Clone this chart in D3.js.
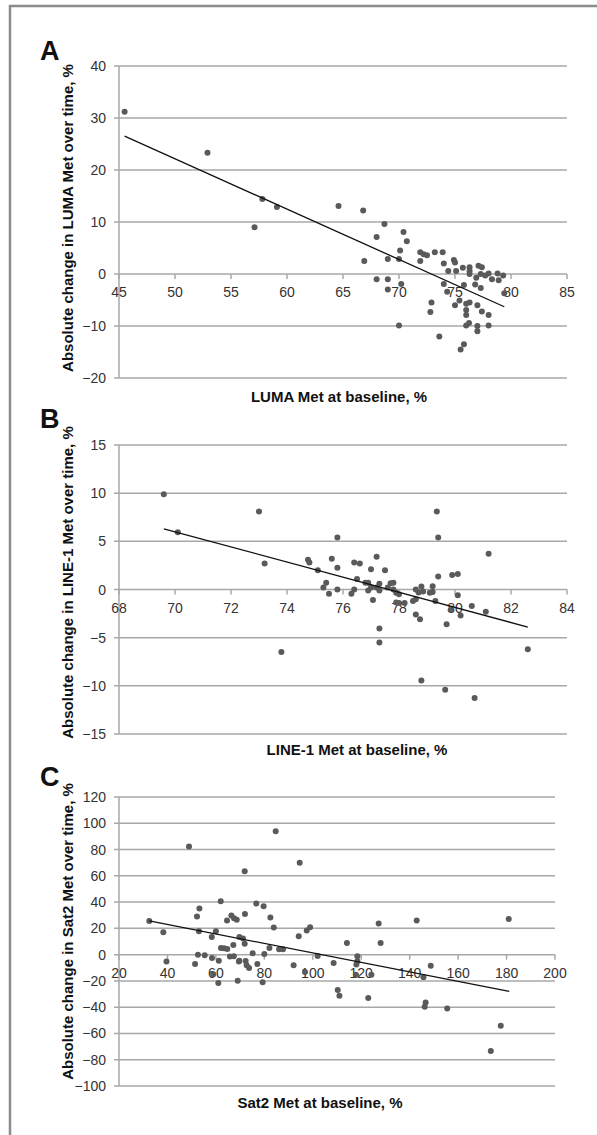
<!DOCTYPE html>
<html>
<head>
<meta charset="utf-8">
<script src="https://cdn.jsdelivr.net/npm/d3@7"></script>
<style>
    body { margin: 0; background: #fff; }
    svg text { font-family: "Liberation Sans", Arial, sans-serif; }
</style>
</head>
<body>
<svg id="figure" width="597" height="1135"></svg>
<script>
// panel A - LUMA
const lumaPoints = [
    [45.5, 31.2], [52.9, 23.3], [57.8, 14.4], [59.1, 12.9], [57.1, 9.0], [64.6, 13.1], [66.8, 12.2],
    [68.0, 7.1], [68.7, 9.6], [70.4, 8.1], [70.7, 6.3], [66.9, 2.5], [69.0, 2.9], [70.1, 4.5],
    [70.0, 2.9], [71.9, 4.2], [72.2, 3.8], [72.5, 3.6], [71.9, 2.5], [73.2, 4.2], [73.9, 4.2],
    [74.0, 2.0], [74.9, 2.7], [75.0, 2.2], [74.4, 0.6], [75.1, 0.6], [75.7, 1.2], [76.3, 1.3],
    [76.3, 0.6], [76.3, 0.0], [77.1, 1.6], [77.4, 1.3], [76.9, -0.7], [77.3, 0.0], [78.0, 0.1],
    [77.7, -0.3], [78.3, -1.0], [78.8, 0.1], [78.9, -1.2], [79.3, -0.3], [79.4, -3.7], [68.0, -1.0],
    [69.0, -1.0], [69.0, -3.0], [70.2, -1.9], [70.0, -9.9], [74.0, -1.9], [74.3, -3.4], [75.8, -2.1],
    [76.8, -2.0], [77.3, -2.7], [72.9, -5.5], [72.8, -7.3], [75.0, -6.0], [75.4, -5.1], [76.0, -5.7],
    [76.3, -5.5], [76.0, -6.9], [76.0, -7.9], [77.0, -6.0], [77.4, -7.2], [78.0, -7.9], [76.25, -9.4],
    [76.0, -9.9], [77.0, -10.0], [77.0, -11.0], [78.0, -9.9], [73.6, -12.0], [75.8, -13.5], [75.5, -14.5]
];
const lumaTrend = [[45.5, 26.5], [79.4, -6.3]];
const lumaXTicks = [45, 50, 55, 60, 65, 70, 75, 80, 85];
const lumaYTicks = [-20, -10, 0, 10, 20, 30, 40];

// panel B - LINE-1
const line1Points = [
    [69.6, 9.9], [70.1, 5.95], [73.0, 8.1], [73.2, 2.7], [73.8, -6.5], [78.8, -9.45], [79.65, -10.4],
    [80.7, -11.25], [79.35, 8.1], [79.4, 5.4], [75.8, 5.4], [81.2, 3.7], [74.75, 3.1], [74.8, 2.8],
    [75.6, 3.2], [76.4, 2.8], [76.6, 2.7], [77.2, 3.4], [75.1, 2.0], [75.8, 2.25], [77.0, 2.1],
    [77.5, 2.0], [76.5, 1.1], [75.4, 0.7], [75.3, 0.2], [75.5, -0.45], [75.8, 0.0], [76.3, -0.45],
    [76.4, 0.0], [76.8, 0.7], [76.9, 0.7], [76.9, -0.1], [77.07, -1.1], [77.0, 0.2], [77.2, 0.2],
    [77.3, 0.6], [77.3, -0.1], [77.6, 0.2], [77.7, 0.65], [77.8, 0.7], [77.8, 0.0], [77.9, -0.35],
    [77.9, -1.35], [78.0, -0.5], [78.0, -1.4], [78.2, -1.4], [78.5, -1.2], [78.6, 0.0], [78.7, -0.3],
    [78.6, -1.0], [78.8, 0.3], [78.86, -0.2], [79.1, -0.35], [79.2, 0.35], [79.2, -0.25], [79.3, -1.2],
    [79.4, 1.35], [79.9, 1.5], [80.1, 1.6], [80.1, -0.6], [79.85, -2.1], [80.2, -2.7], [80.6, -1.7],
    [81.1, -2.3], [78.6, -2.6], [78.75, -3.1], [79.7, -3.6], [77.3, -4.05], [77.3, -5.5], [82.6, -6.2]
];
const line1Trend = [[69.6, 6.3], [82.6, -3.9]];
const line1XTicks = [68, 70, 72, 74, 76, 78, 80, 82, 84];
const line1YTicks = [-15, -10, -5, 0, 5, 10, 15];

// panel C - Sat2
const sat2Points = [
    [84.7, 93.9], [48.9, 82.4], [94.6, 70], [71.9, 63.4], [62.0, 40.7], [76.7, 38.9], [79.7, 36.9],
    [53.2, 35.1], [52.2, 29.0], [66.4, 29.8], [67.5, 27.7], [68.6, 26.5], [64.6, 26.0], [72.0, 31.0],
    [82.5, 28.2], [83.9, 20.6], [32.5, 25.7], [38.3, 17.0], [60.0, 17.8], [53.0, 17.8], [58.3, 13.5],
    [69.7, 13.5], [71.2, 12.2], [71.9, 8.2], [67.2, 7.4], [62.1, 5.1], [63.4, 4.8], [64.7, 4.3],
    [82.1, 5.1], [86.1, 4.1], [87.7, 4.1], [94.2, 14.0], [97.5, 18.3], [98.9, 20.8], [52.6, 0],
    [55.4, -0.5], [58.4, -2.5], [61.2, -4.6], [65.8, -1.5], [67.4, -1.3], [69.7, -4.6], [72.3, -4.8],
    [75.2, 1.0], [72.7, -8.1], [73.7, -10.2], [77.1, -7.1], [80.0, 0.5], [51.4, -7.1], [58.9, -15],
    [61.0, -21.6], [69.0, -19.8], [79.3, -21.1], [92.1, -8.1], [96.8, -13.2], [102.0, -1.0],
    [108.6, -6.4], [110.3, -27], [111.0, -31.3], [39.6, -5.3], [69.5, -5.3], [118.0, -7.6],
    [118.4, -5.1], [117.8, -15.3], [122.9, -33], [124.2, -15.3], [145.7, -17.3], [146.6, -36.4],
    [146.2, -39.7], [148.7, -8.4], [155.5, -41], [177.6, -54.2], [173.5, -73.3], [114.1, 8.9],
    [118.4, -1.3], [127.2, 23.7], [128.0, 8.9], [142.9, 26], [180.9, 27.2]
];
const sat2Trend = [[32.5, 25.7], [181.1, -28]];
const sat2XTicks = [20, 40, 60, 80, 100, 120, 140, 160, 180, 200];
const sat2YTicks = [-100, -80, -60, -40, -20, 0, 20, 40, 60, 80, 100, 120];

const svg = d3.select("#figure");

// outer frame, open on the right and bottom like the scan
svg.append("path")
    .attr("d", "M10,1135 L10,6 L597,6")
    .attr("fill", "none")
    .attr("stroke", "#8c8c8c")
    .attr("stroke-width", 2.5);

const fmt = function (d) {
    return d < 0 ? "\u2212" + Math.abs(d) : String(d);
};

function drawPanel(p) {
    const x = d3.scaleLinear().domain(d3.extent(p.xTicks)).range([p.left, p.right]);
    const y = d3.scaleLinear().domain(d3.extent(p.yTicks)).range([p.bottom, p.top]);
    const g = svg.append("g");

    // horizontal gridlines (they also poke out left as tick marks)
    g.selectAll(".grid").data(p.yTicks).enter()
        .append("line")
        .attr("x1", p.left - 5)
        .attr("x2", p.right)
        .attr("y1", d => y(d))
        .attr("y2", d => y(d))
        .attr("stroke", "#a8a8a8")
        .attr("stroke-width", 1.5);

    g.append("line")
        .attr("x1", p.left).attr("x2", p.left)
        .attr("y1", p.top).attr("y2", p.bottom)
        .attr("stroke", "#a8a8a8")
        .attr("stroke-width", 1.5);

    g.selectAll(".ylab").data(p.yTicks).enter()
        .append("text")
        .attr("x", p.left - 13)
        .attr("y", d => y(d))
        .attr("dy", "0.36em")
        .attr("text-anchor", "end")
        .attr("font-size", 14)
        .attr("fill", "#333")
        .text(fmt);

    // x axis sits at zero
    const y0 = y(0);
    g.selectAll(".xtick").data(p.xTicks).enter()
        .append("line")
        .attr("x1", d => x(d)).attr("x2", d => x(d))
        .attr("y1", y0).attr("y2", y0 + 5)
        .attr("stroke", "#a8a8a8")
        .attr("stroke-width", 1.5);

    g.selectAll(".xlab").data(p.xTicks).enter()
        .append("text")
        .attr("x", d => x(d))
        .attr("y", y0 + 23)
        .attr("text-anchor", "middle")
        .attr("font-size", 14)
        .attr("fill", "#333")
        .text(fmt);

    g.selectAll("circle").data(p.points).enter()
        .append("circle")
        .attr("cx", d => x(d[0]))
        .attr("cy", d => y(d[1]))
        .attr("r", 3)
        .attr("fill", "#5a5a5a");

    g.append("path")
        .datum(p.trend)
        .attr("d", d3.line().x(d => x(d[0])).y(d => y(d[1])))
        .attr("fill", "none")
        .attr("stroke", "#111")
        .attr("stroke-width", 1.3);

    g.append("text")
        .attr("x", 40)
        .attr("y", p.letterY)
        .attr("font-size", 27)
        .attr("font-weight", "bold")
        .attr("fill", "#111")
        .text(p.letter);

    g.append("text")
        .attr("transform", "translate(73," + ((p.top + p.bottom) / 2 + p.titleShift) + ") rotate(-90)")
        .attr("text-anchor", "middle")
        .attr("font-size", 15)
        .attr("font-weight", "bold")
        .attr("fill", "#111")
        .text(p.yTitle);

    g.append("text")
        .attr("x", p.titleX)
        .attr("y", p.titleY)
        .attr("text-anchor", "middle")
        .attr("font-size", 15)
        .attr("font-weight", "bold")
        .attr("fill", "#111")
        .text(p.xTitle);
}

drawPanel({
    letter: "A", letterY: 60,
    points: lumaPoints, trend: lumaTrend, xTicks: lumaXTicks, yTicks: lumaYTicks,
    left: 119, right: 567, top: 66, bottom: 378,
    xTitle: "LUMA Met at baseline, %", titleX: 339, titleY: 402,
    yTitle: "Absolute change in LUMA Met over time, %", titleShift: -4
});

drawPanel({
    letter: "B", letterY: 428,
    points: line1Points, trend: line1Trend, xTicks: line1XTicks, yTicks: line1YTicks,
    left: 119, right: 567, top: 445, bottom: 734,
    xTitle: "LINE-1 Met at baseline, %", titleX: 357, titleY: 755,
    yTitle: "Absolute change in LINE-1 Met over time, %", titleShift: -7
});

drawPanel({
    letter: "C", letterY: 786,
    points: sat2Points, trend: sat2Trend, xTicks: sat2XTicks, yTicks: sat2YTicks,
    left: 119, right: 555, top: 797, bottom: 1086,
    xTitle: "Sat2 Met at baseline, %", titleX: 320, titleY: 1108,
    yTitle: "Absolute change in Sat2 Met over time, %", titleShift: -10
});
</script>
</body>
</html>
